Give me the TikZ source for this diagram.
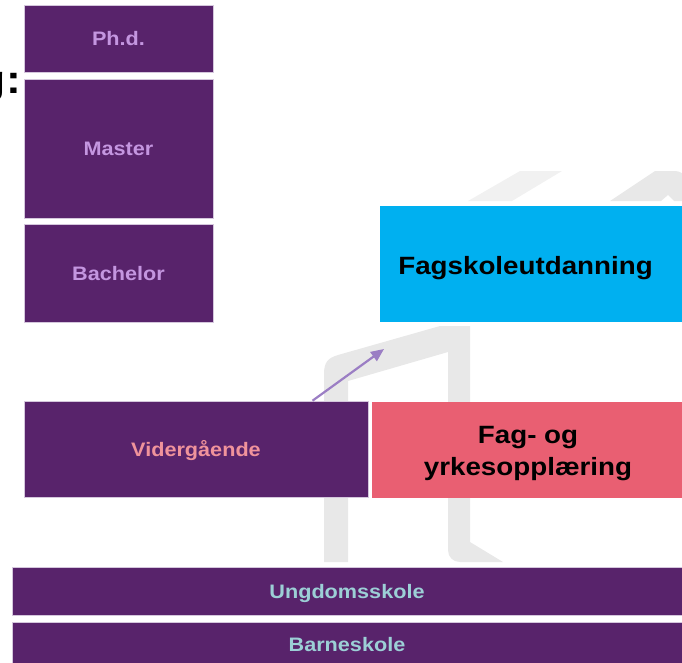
\documentclass[tikz,border=0pt]{standalone}
\usepackage{fontspec}
\setmainfont{Liberation Sans}[FakeStretch=1.11]
\usetikzlibrary{arrows.meta}
\definecolor{lilla}{HTML}{58236B}
\definecolor{lyslilla}{HTML}{C496E0}
\definecolor{rosa}{HTML}{F0939B}
\definecolor{turkis}{HTML}{9CCFD6}
\definecolor{blaa}{HTML}{00B0F0}
\definecolor{rod}{HTML}{E95F72}
\definecolor{pil}{HTML}{9B7EC4}
\definecolor{kant}{HTML}{D4C6DC}
\definecolor{logo}{HTML}{E8E8E8}
\definecolor{logolys}{HTML}{F1F1F1}
\begin{document}
\begin{tikzpicture}[x=1pt, y=-1pt,
        boks/.style = {draw=kant, line width=0.6pt, inner sep=0pt, text height=14pt, text depth=0pt, font=\fontsize{19.5}{23}\selectfont\bfseries},
        stor/.style = {inner sep=0pt, align=center, text=black, font=\fontsize{25}{32}\selectfont\bfseries}]
    \useasboundingbox (0, 0) rectangle (682, 662);
    \fill[logo] (324, 562) -- (324, 374) .. controls (324, 362) and (328, 358) .. (338, 355) -- (440, 326) -- (448, 326) -- (448, 352) -- (348, 381) -- (348, 562) -- cycle;
    \fill[logo] (448, 326) -- (470, 326) -- (470, 542) -- (503, 562) -- (460, 562) .. controls (453, 562) and (448, 557) .. (448, 550) -- cycle;
    \fill[logolys] (468, 201) -- (520, 171) -- (562, 171) -- (512, 201) -- cycle;
    \fill[logo] (610, 201) -- (655, 171) -- (675, 171) .. controls (680, 171) and (684, 174) .. (690, 180) -- (690, 201) -- (674, 201) -- (668, 195) -- (661, 201) -- cycle;
    \node[anchor=base east, inner sep=0pt, font=\fontsize{40}{48}\selectfont\bfseries] (overskrift) at (21, 93) {g:};
    \node[boks, fill=lilla, text=lyslilla, minimum width=189pt, minimum height=67pt] (phd) at (118.5, 38.5) {Ph.d.};
    \node[boks, fill=lilla, text=lyslilla, minimum width=189pt, minimum height=139pt] (master) at (118.5, 148.5) {Master};
    \node[boks, fill=lilla, text=lyslilla, minimum width=189pt, minimum height=98pt] (bachelor) at (118.5, 273) {Bachelor};
    \node[boks, fill=blaa, draw=none, minimum width=310pt, minimum height=116pt] (fagskole) at (535, 264) {};
    \node[stor, anchor=base] (fagskoletekst) at (525.5, 274) {Fagskoleutdanning};
    \node[boks, fill=lilla, text=rosa, minimum width=344pt, minimum height=96pt] (vgs) at (196, 449) {Vidergående};
    \node[boks, fill=rod, draw=none, minimum width=310pt, minimum height=96pt] (fagbrev) at (527, 450) {};
    \node[stor, anchor=base] (fagbrevtekst) at (528, 475) {Fag- og\\yrkesopplæring};
    \node[boks, fill=lilla, text=turkis, minimum width=670pt, minimum height=48pt] (ungdom) at (347, 591) {Ungdomsskole};
    \node[boks, fill=lilla, text=turkis, minimum width=670pt, minimum height=44pt] (barne) at (347, 644) {Barneskole};
    \coordinate (pilspiss) at (384, 349);
    \draw[-{Triangle[length=13pt, width=11pt]}, pil, line width=2.2pt] ([xshift=116.5pt]vgs.north) -- (pilspiss);
\end{tikzpicture}
\end{document}
